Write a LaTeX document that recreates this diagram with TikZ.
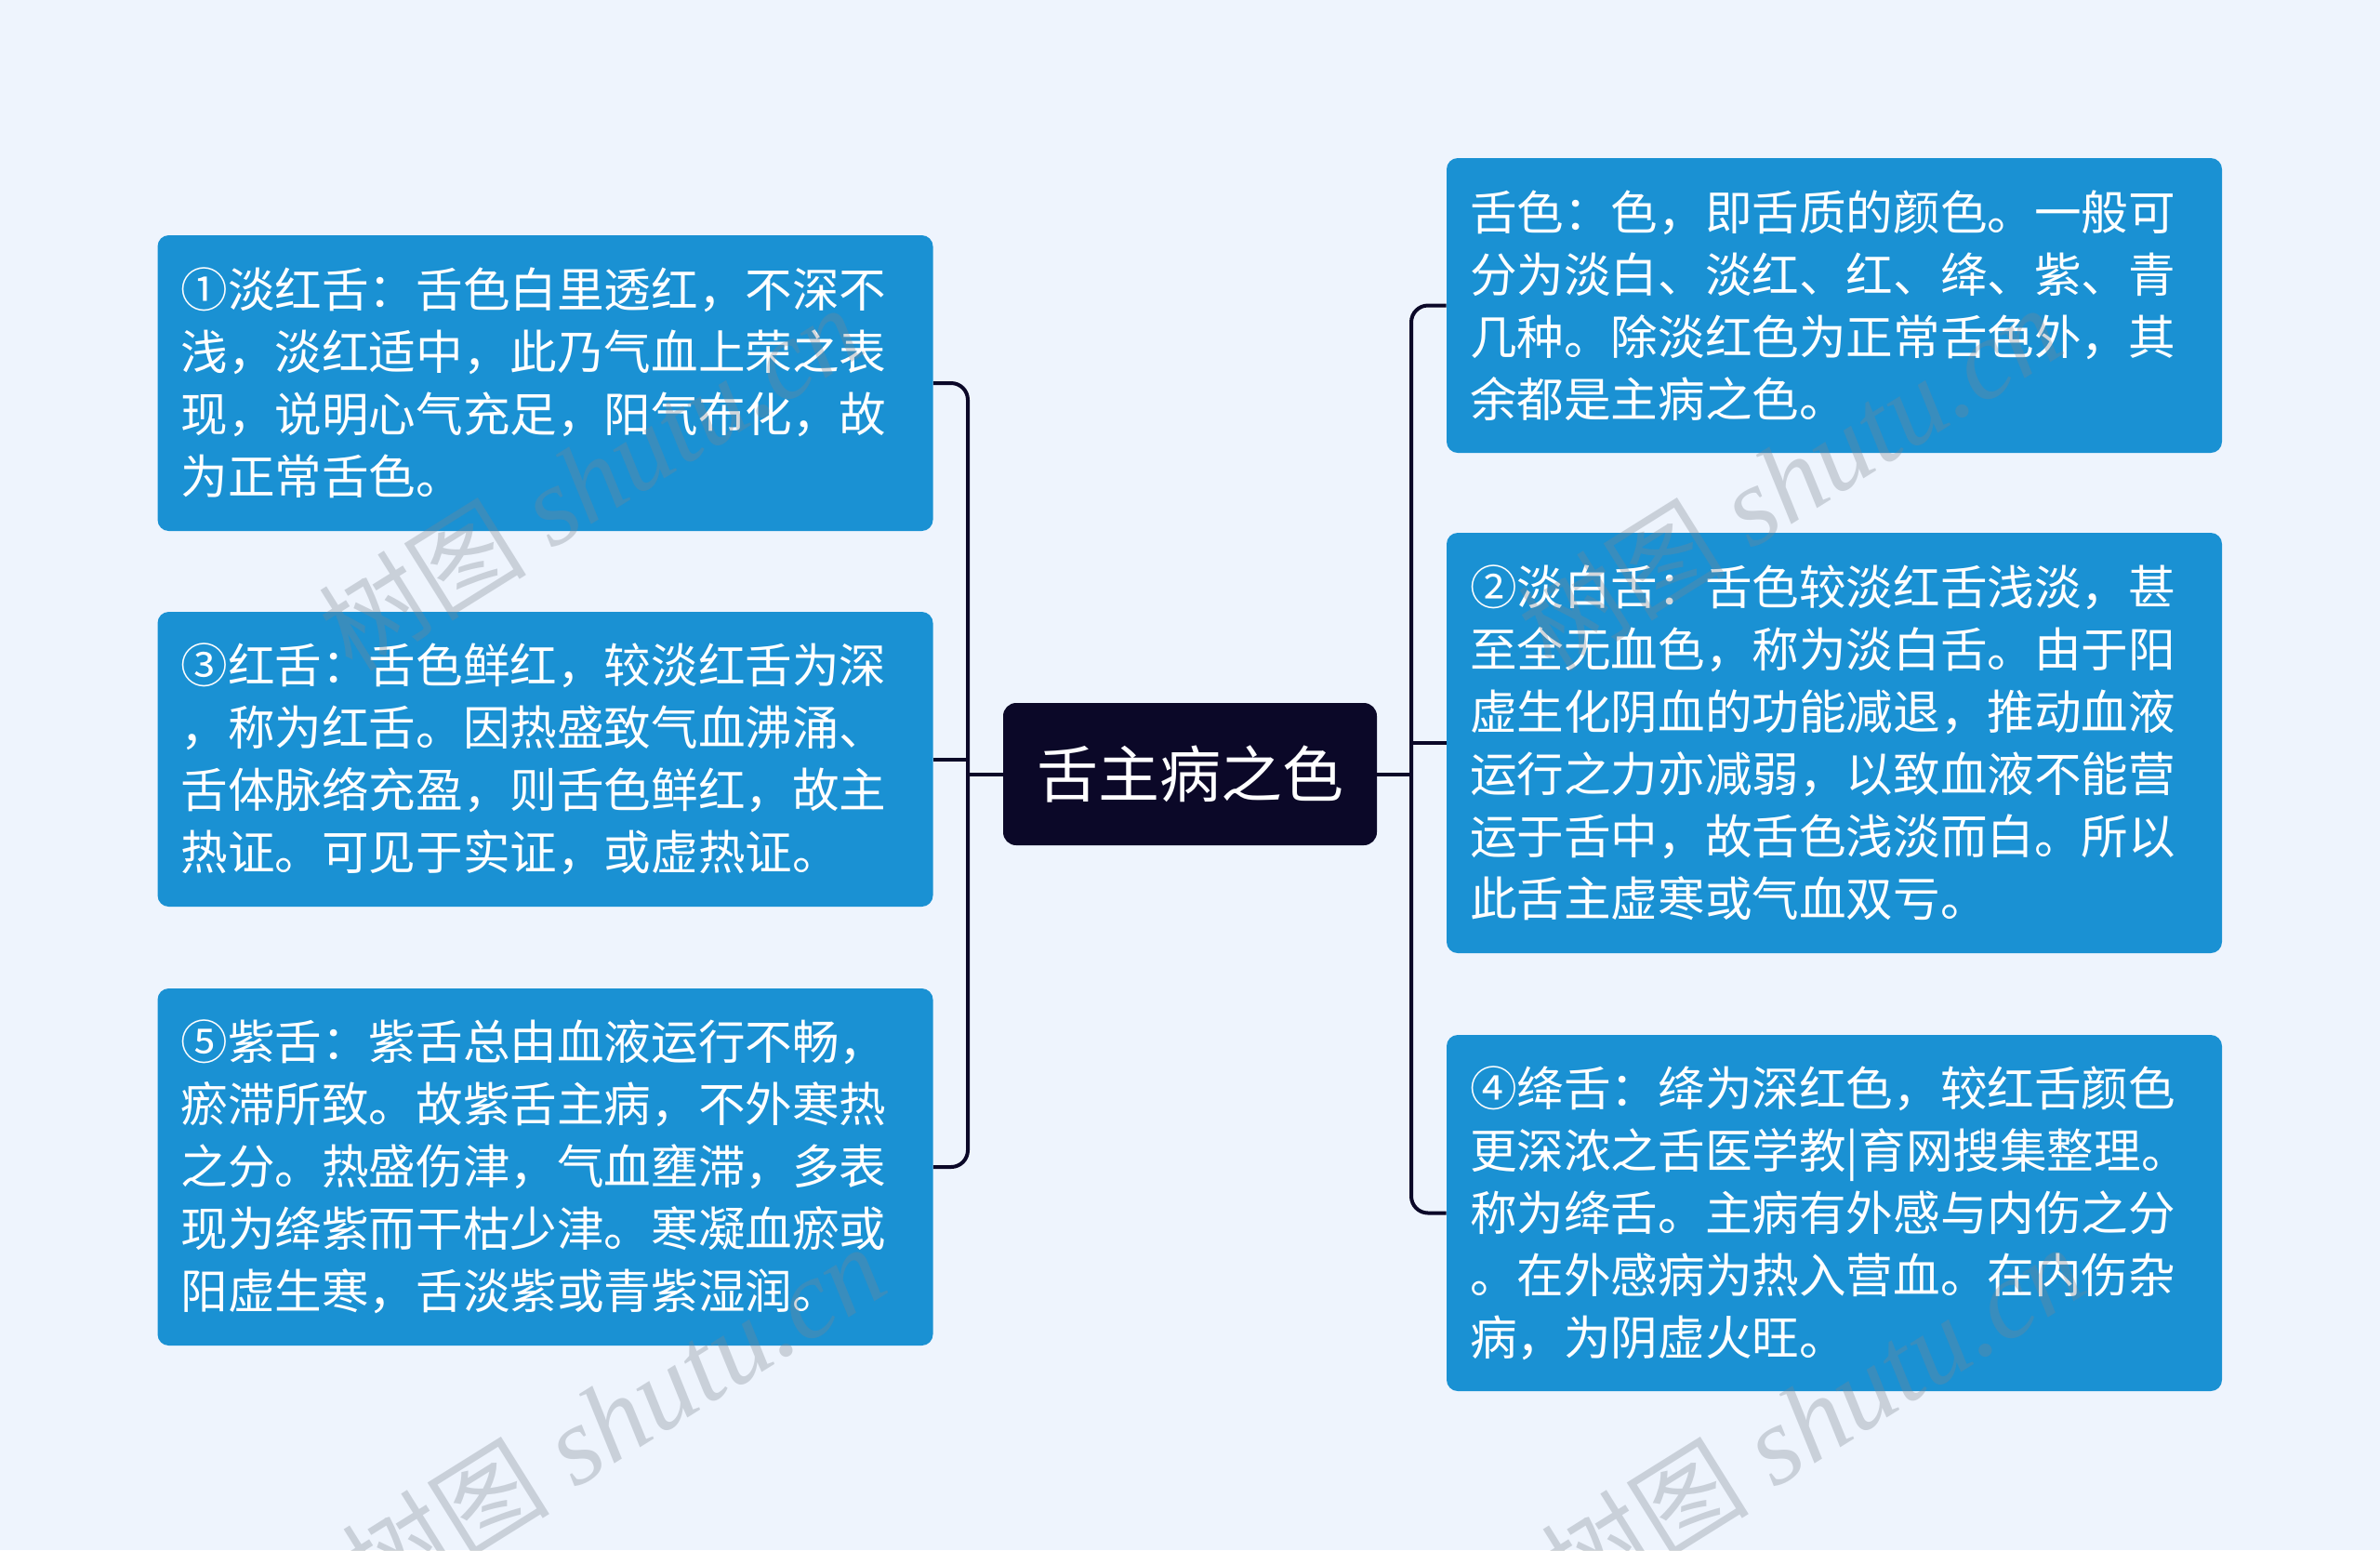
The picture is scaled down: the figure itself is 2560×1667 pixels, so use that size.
\documentclass[tikz,border=0pt]{standalone}
\usepackage{fontspec}
\newfontfamily\cjk{Noto Sans CJK SC}
\newfontfamily\wmf{Liberation Serif}
\definecolor{bgc}{HTML}{EEF4FD}
\definecolor{boxblue}{HTML}{1A91D3}
\definecolor{darkc}{HTML}{0B0828}
\definecolor{wmgray}{HTML}{7C8590}
\tikzset{
  leaf/.style={fill=boxblue, rounded corners=6pt, minimum width=417pt, inner sep=0pt},
  txt/.style={text=white, align=left, inner sep=0pt, anchor=west,
    font=\cjk\fontsize{25.3pt}{33.5pt}\selectfont},
  rootbox/.style={fill=darkc, text=white, rounded corners=7pt, minimum width=201pt,
    minimum height=76.5pt, inner sep=0pt, font=\cjk\fontsize{33pt}{36pt}\selectfont},
  conn/.style={draw=darkc, line width=2pt, rounded corners=9pt},
  wmk/.style={text=wmgray, opacity=0.32, rotate=32, inner sep=0pt}
}
\newcommand{\wmtext}{{\cjk\fontsize{56pt}{60pt}\selectfont 树图}\hspace{14pt}{\wmf\itshape\fontsize{60pt}{64pt}\selectfont shutu.cn}}
\begin{document}
\begin{tikzpicture}[x=0.5pt,y=-0.5pt]
\useasboundingbox (0,0) rectangle (2560,1667);
\clip (0,0) rectangle (2560,1667);
\fill[bgc] (0,0) rectangle (2560,1667);

% boxes
\node[leaf, minimum height=159pt] (L1) at (586.5,412) {};
\node[leaf, minimum height=158.5pt] (L3) at (586.5,816.5) {};
\node[leaf, minimum height=192pt] (L5) at (586.5,1255) {};
\node[leaf, minimum height=158.5pt] (R0) at (1973,328.5) {};
\node[leaf, minimum height=226pt] (R2) at (1973,799) {};
\node[leaf, minimum height=191.5pt] (R4) at (1973,1304.5) {};
\node[rootbox] (C) at (1280,832.5) {舌主病之色};

% connectors
\coordinate (lb) at (1041,832.5);
\coordinate (rb) at (1518,832.5);
\draw[conn] (L1.east) -| (lb) |- (L5.east);
\draw[conn] (L3.east) -- (L3.east -| lb);
\draw[conn] (C.west) -- (lb);
\draw[conn] (R0.west) -| (rb) |- (R4.west);
\draw[conn] (R2.west) -- (R2.west -| rb);
\draw[conn] (C.east) -- (rb);

% texts
\node[txt] (tL1) at ([xshift=12.5pt]L1.west) {①淡红舌：舌色白里透红，不深不\\浅，淡红适中，此乃气血上荣之表\\现，说明心气充足，阳气布化，故\\为正常舌色。};
\node[txt] (tL3) at ([xshift=12.5pt]L3.west) {③红舌：舌色鲜红，较淡红舌为深\\，称为红舌。因热盛致气血沸涌、\\舌体脉络充盈，则舌色鲜红，故主\\热证。可见于实证，或虚热证。};
\node[txt] (tL5) at ([xshift=12.5pt]L5.west) {⑤紫舌：紫舌总由血液运行不畅，\\瘀滞所致。故紫舌主病，不外寒热\\之分。热盛伤津，气血壅滞，多表\\现为绛紫而干枯少津。寒凝血瘀或\\阳虚生寒，舌淡紫或青紫湿润。};
\node[txt] (tR0) at ([xshift=12.5pt]R0.west) {舌色：色，即舌质的颜色。一般可\\分为淡白、淡红、红、绛、紫、青\\几种。除淡红色为正常舌色外，其\\余都是主病之色。};
\node[txt] (tR2) at ([xshift=12.5pt]R2.west) {②淡白舌：舌色较淡红舌浅淡，甚\\至全无血色，称为淡白舌。由于阳\\虚生化阴血的功能减退，推动血液\\运行之力亦减弱，以致血液不能营\\运于舌中，故舌色浅淡而白。所以\\此舌主虚寒或气血双亏。};
\node[txt] (tR4) at ([xshift=12.5pt]R4.west) {④绛舌：绛为深红色，较红舌颜色\\更深浓之舌医学教|育网搜集整理。\\称为绛舌。主病有外感与内伤之分\\。在外感病为热入营血。在内伤杂\\病，为阴虚火旺。};

% watermarks
\node[wmk] (w1) at (635,515) {\wmtext};
\node[wmk] (w2) at (1925,515) {\wmtext};
\node[wmk] (w3) at (660,1525) {\wmtext};
\node[wmk] (w4) at (1950,1525) {\wmtext};
\end{tikzpicture}
\end{document}
